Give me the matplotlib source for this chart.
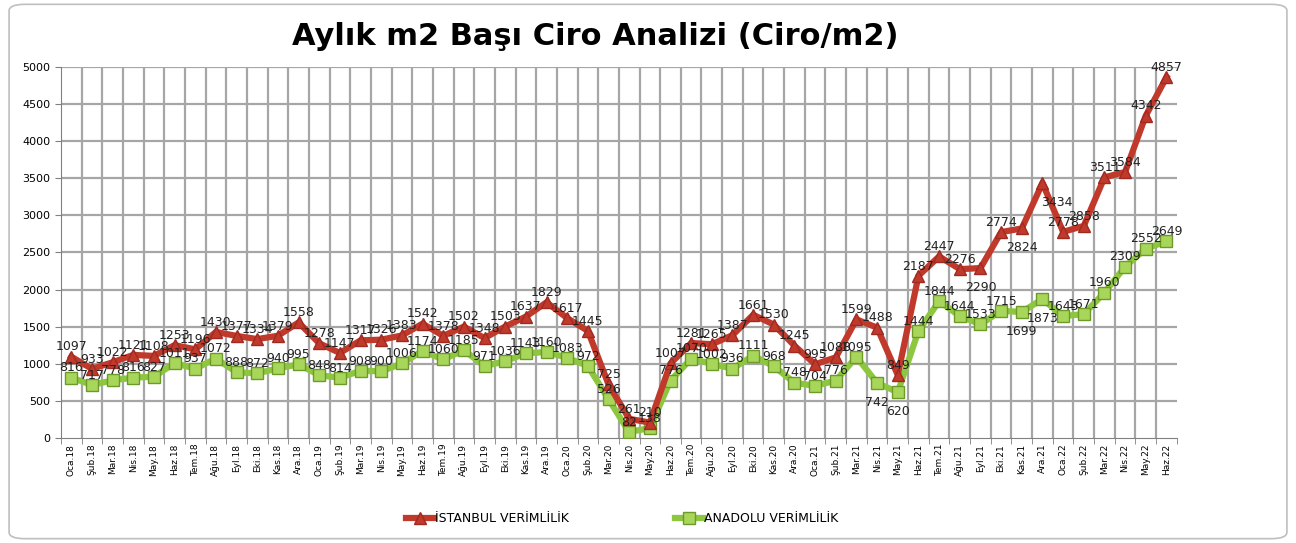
import matplotlib
matplotlib.use("Agg")
import matplotlib.pyplot as plt
from matplotlib.patches import FancyBboxPatch
import numpy as np

# data
months = ["Oca", "Şub", "Mar", "Nis", "May", "Haz", "Tem", "Ağu", "Eyl", "Eki", "Kas", "Ara"]
years = ["18", "19", "20", "21", "22"]
categories = [f"{m}.{y}" for y in years for m in months][:54]

istanbul = [1097, 933, 1022, 1121, 1108, 1253, 1196, 1430, 1377, 1334, 1379, 1558,
            1278, 1147, 1317, 1326, 1383, 1542, 1378, 1502, 1348, 1503, 1637, 1829,
            1617, 1445, 725, 261, 210, 1007, 1281, 1265, 1387, 1661, 1530, 1245,
            995, 1088, 1599, 1488, 849, 2187, 2447, 2276, 2290, 2774, 2824, 3434,
            2778, 2858, 3511, 3584, 4342, 4857]
anadolu = [816, 717, 778, 816, 827, 1011, 937, 1072, 888, 872, 940, 995,
           848, 814, 908, 900, 1006, 1174, 1060, 1185, 971, 1036, 1143, 1160,
           1083, 972, 526, 82, 138, 776, 1070, 1002, 936, 1111, 968, 748,
           704, 776, 1095, 742, 620, 1444, 1844, 1644, 1533, 1715, 1699, 1873,
           1643, 1671, 1960, 2309, 2552, 2649]

# labels that sit under their point in the reference
istanbul_below = {44, 46, 47}
anadolu_below = {39, 40, 46, 47}

RED = "#C0392B"
GREEN = "#8DC63F"

fig = plt.figure(figsize=(12.96, 5.43), dpi=100)
fig.patches.append(FancyBboxPatch((0.007, 0.008), 0.986, 0.984,
                                  boxstyle="round,pad=0,rounding_size=0.012",
                                  transform=fig.transFigure, facecolor="white",
                                  edgecolor="#BFBFBF", linewidth=1.2, zorder=-1))
ax = fig.add_axes([0.047, 0.193, 0.861, 0.684])

x = np.arange(len(categories))
ax.plot(x, istanbul, color=RED, lw=4.5, marker="^", ms=9, mfc=RED, mec="#9E2A22",
        label="İSTANBUL VERİMLİLİK", zorder=4)
ax.plot(x, anadolu, color=GREEN, lw=4.5, marker="s", ms=8, mfc="#A8D65A", mec="#6E9A2A",
        label="ANADOLU VERİMLİLİK", zorder=3)

for i, v in enumerate(istanbul):
    dy = -14 if i in istanbul_below else 7
    dx = 10 if i == 47 else 0
    ax.annotate(str(v), (i, v), xytext=(dx, dy), textcoords="offset points",
                ha="center", va="center", fontsize=9, color="#222222", zorder=6)
for i, v in enumerate(anadolu):
    dy = -14 if i in anadolu_below else 7
    ax.annotate(str(v), (i, v), xytext=(0, dy), textcoords="offset points",
                ha="center", va="center", fontsize=9, color="#222222", zorder=6)

ax.set_xlim(-0.5, len(categories) - 0.5)
ax.set_ylim(0, 5000)
ax.set_yticks(np.arange(0, 5001, 500))
ax.set_xticks(x)
ax.set_xticklabels(categories, rotation=90, fontsize=6.5)
ax.set_xticks(np.arange(-0.5, len(categories)), minor=True)
ax.tick_params(axis="x", which="major", length=0, pad=4)
ax.tick_params(axis="x", which="minor", length=4, color="#808080")
ax.tick_params(axis="y", labelsize=8, length=4, color="#808080")

ax.grid(False)
for yv in np.arange(500, 5001, 500):
    ax.axhline(yv, color="#A6A6A6", lw=1.6, zorder=1)
for xv in np.arange(0.5, len(categories) - 0.5):
    ax.axvline(xv, color="#A6A6A6", lw=1.6, zorder=1)

for s in ["top", "right"]:
    ax.spines[s].set_visible(False)
ax.spines["left"].set_color("#808080")
ax.spines["bottom"].set_color("#808080")

fig.text(0.459, 0.932, "Aylık m2 Başı Ciro Analizi (Ciro/m2)", ha="center", va="center",
         fontsize=22, fontweight="bold")

fig.legend(loc="center", bbox_to_anchor=(0.48, 0.045), ncol=2, frameon=False,
           fontsize=9, columnspacing=8.5, handlelength=2.2, handletextpad=0.1)

plt.savefig("out.png", dpi=100)
